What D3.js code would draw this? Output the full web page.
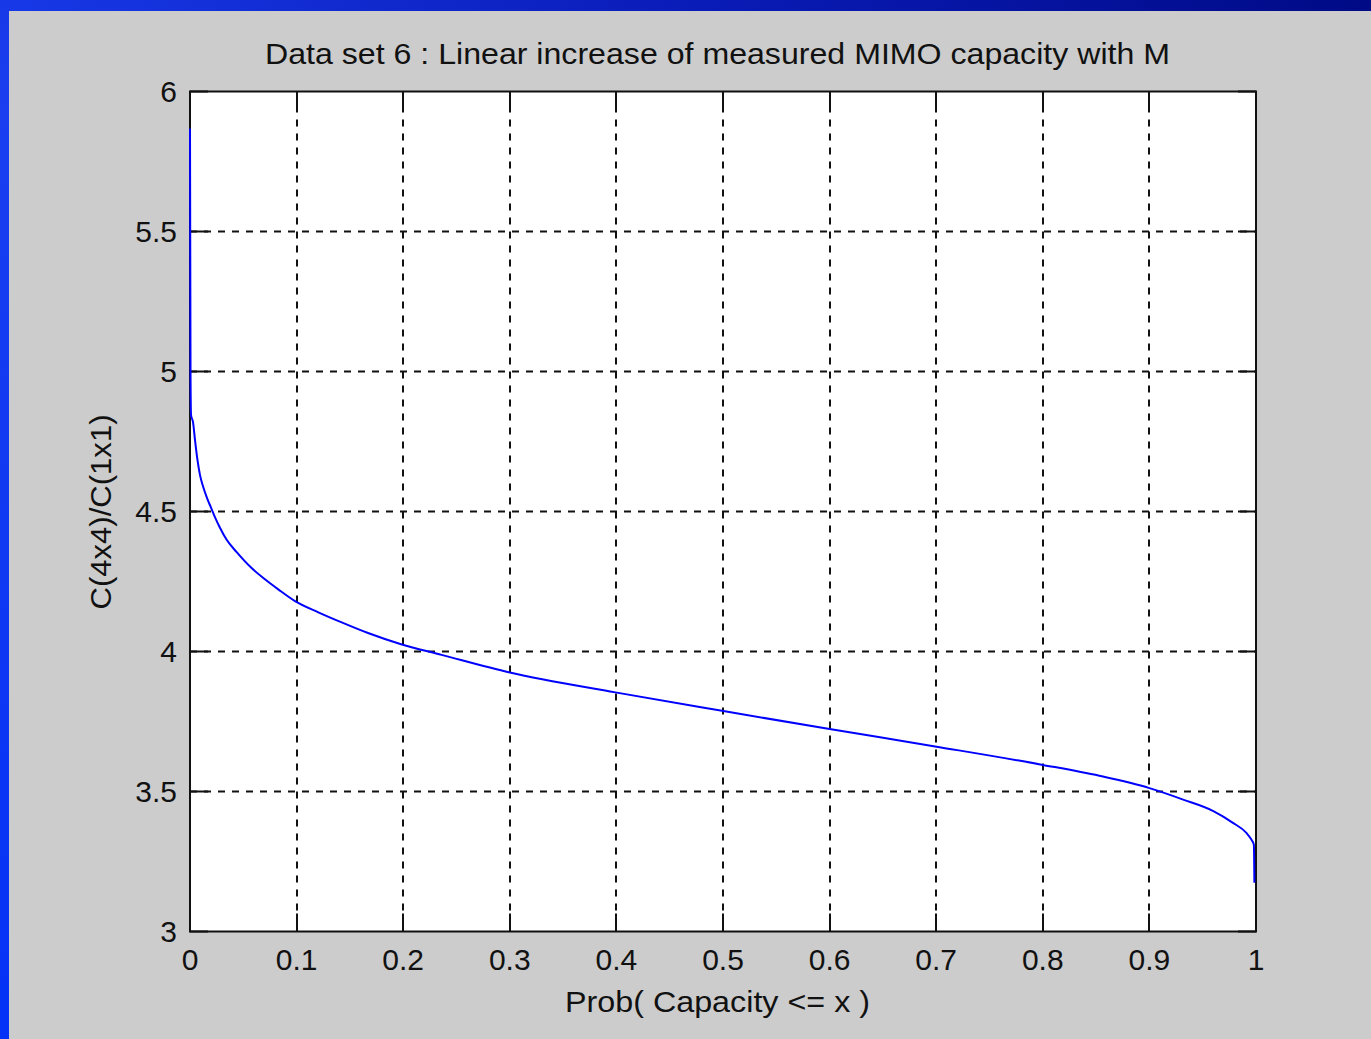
<!DOCTYPE html>
<html>
<head>
<meta charset="utf-8">
<script src="https://cdn.jsdelivr.net/npm/d3@7"></script>
<style>
  body { margin: 0; overflow: hidden; }
  text { font-family: "Liberation Sans", Arial, sans-serif; fill: #111; }
</style>
</head>
<body>
<div id="chart"></div>
<script>
// values
var probability = [0, 0.0005, 0.001, 0.0028, 0.0047, 0.007, 0.0094, 0.0122, 0.016, 0.0197, 0.0234, 0.0281,
    0.0344, 0.0438, 0.0578, 0.0703, 0.0828, 0.0985, 0.1204, 0.1423, 0.167, 0.198, 0.236, 0.300, 0.399,
    0.499, 0.600, 0.699, 0.800, 0.853, 0.900, 0.931, 0.960, 0.978, 0.991, 0.995, 0.998, 0.9985];
var capacityRatio = [5.868, 4.98, 4.843, 4.82, 4.755, 4.684, 4.63, 4.59, 4.548, 4.514, 4.48, 4.442,
    4.399, 4.355, 4.298, 4.258, 4.222, 4.18, 4.14, 4.104, 4.066, 4.026, 3.988, 3.925, 3.854,
    3.788, 3.723, 3.661, 3.595, 3.556, 3.512, 3.472, 3.43, 3.389, 3.352, 3.332, 3.310, 3.174];
var xTicks = [0, 0.1, 0.2, 0.3, 0.4, 0.5, 0.6, 0.7, 0.8, 0.9, 1];
var xTickLabels = ["0", "0.1", "0.2", "0.3", "0.4", "0.5", "0.6", "0.7", "0.8", "0.9", "1"];
var yTicks = [3, 3.5, 4, 4.5, 5, 5.5, 6];
var yTickLabels = ["3", "3.5", "4", "4.5", "5", "5.5", "6"];
var titleText = "Data set 6 : Linear increase of measured MIMO capacity with M";
var xLabelText = "Prob( Capacity <= x )";
var yLabelText = "C(4x4)/C(1x1)";

var W = 1371, H = 1039;
var plotL = 190, plotR = 1256, plotT = 91.5, plotB = 931.5;

var svg = d3.select("#chart").append("svg").attr("width", W).attr("height", H);

// slide background
var grad = svg.append("defs").append("linearGradient").attr("id", "slide")
    .attr("x1", 0).attr("y1", 1).attr("x2", 1).attr("y2", 0);
grad.append("stop").attr("offset", 0).attr("stop-color", "#0432f6");
grad.append("stop").attr("offset", 0.45).attr("stop-color", "#1a3ef0");
grad.append("stop").attr("offset", 0.75).attr("stop-color", "#0a1cb8");
grad.append("stop").attr("offset", 1).attr("stop-color", "#000a86");
svg.append("rect").attr("width", W).attr("height", H).attr("fill", "url(#slide)");
svg.append("rect").attr("x", 9).attr("y", 11).attr("width", W - 9).attr("height", H - 11).attr("fill", "#cccccc");

var x = d3.scaleLinear().domain([0, 1]).range([plotL, plotR]);
var y = d3.scaleLinear().domain([3, 6]).range([plotB, plotT]);

svg.append("rect").attr("x", plotL).attr("y", plotT).attr("width", plotR - plotL).attr("height", plotB - plotT).attr("fill", "#fff");

// dashed grid
svg.append("g").selectAll("line").data(xTicks.slice(1, -1)).enter().append("line")
    .attr("x1", d => Math.round(x(d))).attr("x2", d => Math.round(x(d))).attr("y1", plotT).attr("y2", plotB)
    .attr("stroke", "#111").attr("stroke-width", 2).attr("stroke-dasharray", "7,7");
svg.append("g").selectAll("line").data(yTicks.slice(1, -1)).enter().append("line")
    .attr("y1", d => y(d)).attr("y2", d => y(d)).attr("x1", plotL).attr("x2", plotR)
    .attr("stroke", "#111").attr("stroke-width", 2).attr("stroke-dasharray", "7,7");

// inner ticks on all four sides
var tk = 18;
var ticks = svg.append("g").attr("stroke", "#111").attr("stroke-width", 2);
xTicks.forEach(d => {
    var px = Math.round(x(d));
    ticks.append("line").attr("x1", px).attr("x2", px).attr("y1", plotB).attr("y2", plotB - tk);
    ticks.append("line").attr("x1", px).attr("x2", px).attr("y1", plotT).attr("y2", plotT + tk);
});
yTicks.forEach(d => {
    ticks.append("line").attr("y1", y(d)).attr("y2", y(d)).attr("x1", plotL).attr("x2", plotL + tk);
    ticks.append("line").attr("y1", y(d)).attr("y2", y(d)).attr("x1", plotR).attr("x2", plotR - tk);
});

// frame
svg.append("rect").attr("x", plotL).attr("y", plotT).attr("width", plotR - plotL).attr("height", plotB - plotT)
    .attr("fill", "none").attr("stroke", "#111").attr("stroke-width", 2);

// curve
var pts = probability.map((p, i) => ({p: p, v: capacityRatio[i]}));
svg.append("path").datum(pts).attr("fill", "none").attr("stroke", "#0000ff").attr("stroke-width", 2)
    .attr("d", d3.line().x(d => x(d.p)).y(d => y(d.v)).curve(d3.curveMonotoneX));

// tick labels
svg.append("g").selectAll("text").data(xTicks).enter().append("text")
    .attr("x", d => x(d)).attr("y", 970).attr("text-anchor", "middle").attr("font-size", 30)
    .text((d, i) => xTickLabels[i]);
svg.append("g").selectAll("text").data(yTicks).enter().append("text")
    .attr("x", 177).attr("y", d => y(d) + 10.5).attr("text-anchor", "end").attr("font-size", 30)
    .text((d, i) => yTickLabels[i]);

// title and axis labels
svg.append("text").attr("x", 717.5).attr("y", 64).attr("text-anchor", "middle").attr("font-size", 29)
    .attr("textLength", 905).attr("lengthAdjust", "spacingAndGlyphs").text(titleText);
svg.append("text").attr("x", 717.5).attr("y", 1012).attr("text-anchor", "middle").attr("font-size", 29)
    .attr("textLength", 305).attr("lengthAdjust", "spacingAndGlyphs").text(xLabelText);
svg.append("text").attr("transform", "translate(111,512) rotate(-90)").attr("text-anchor", "middle").attr("font-size", 29)
    .attr("textLength", 195).attr("lengthAdjust", "spacingAndGlyphs").text(yLabelText);
</script>
</body>
</html>
